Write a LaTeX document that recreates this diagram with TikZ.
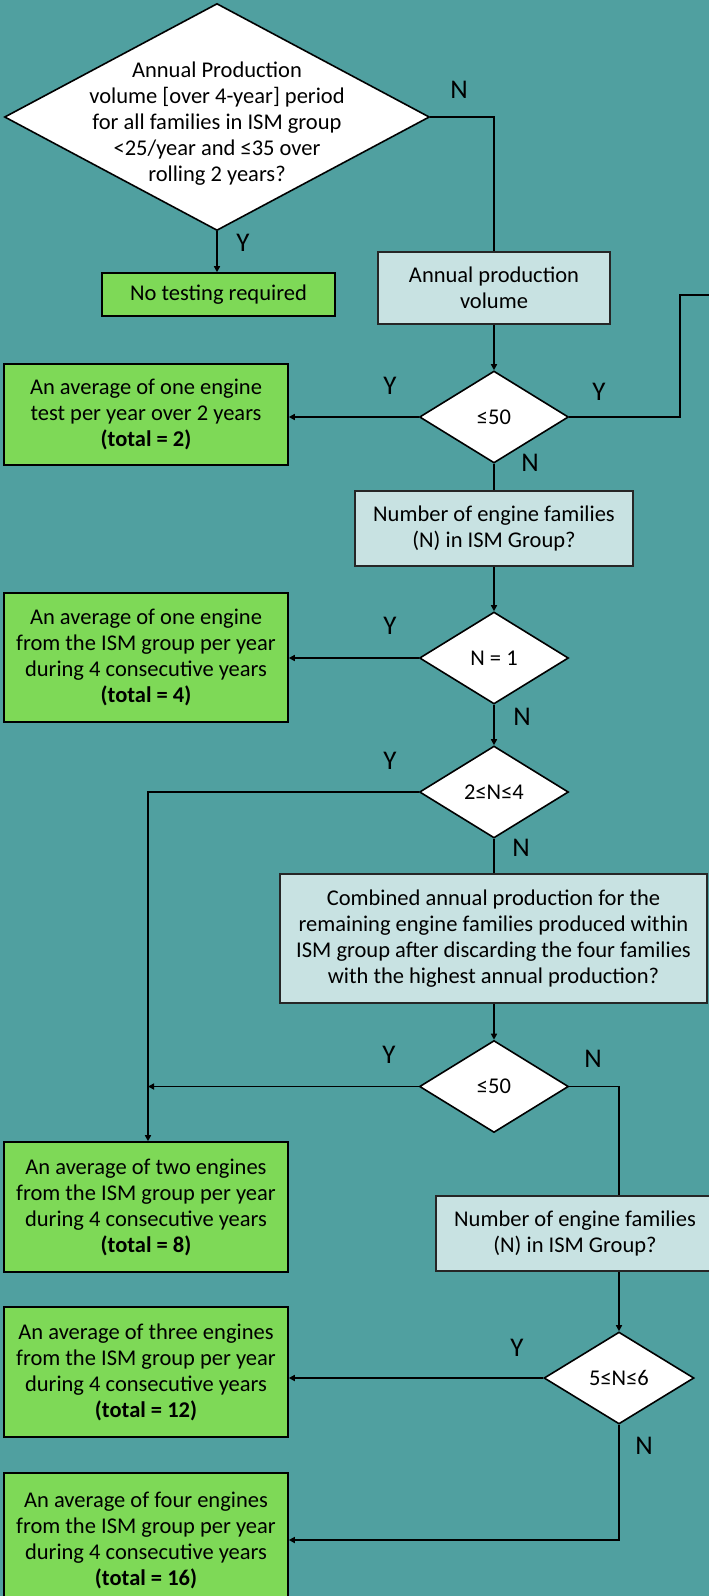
\documentclass[tikz,border=0pt]{standalone}
\usepackage{fontspec}
\setmainfont{Carlito}
\usetikzlibrary{shapes.geometric,arrows.meta}
\definecolor{bgteal}{RGB}{80,160,160}
\definecolor{boxgreen}{RGB}{126,217,87}
\definecolor{boxblue}{RGB}{200,226,226}
\begin{document}
\begin{tikzpicture}[x=1pt,y=-1pt,
  every node/.style={font=\fontsize{22.5}{26}\selectfont, align=center, inner sep=0pt},
  greenbox/.style={draw=black, fill=boxgreen, line width=1.6pt},
  bluebox/.style={draw=black!85, fill=boxblue, line width=1.6pt},
  dec/.style={diamond, draw=black, fill=white, line width=1.6pt, minimum width=149pt, minimum height=92pt},
  yn/.style={font=\fontsize{27}{30}\selectfont},
  conn/.style={line width=1.6pt},
  arr/.style={conn, -{Triangle[length=6pt,width=6pt]}}]
\path[use as bounding box, fill=bgteal] (0,0) rectangle (709,1596);
\clip (0,0) rectangle (709,1596);

% nodes
\node[dec, minimum width=425pt, minimum height=227pt] (D1) at (217,117) {};
\node (D1t) at (217,124) {Annual Production\\volume [over 4-year] period\\for all families in ISM group\\<25/year and ≤35 over\\rolling 2 years?};
\node[greenbox, minimum width=233pt, minimum height=43pt] (G0) at (218.5,294.5) {No testing required};
\node[bluebox, minimum width=232pt, minimum height=72pt] (B1) at (494,288) {Annual production\\volume};
\node[dec] (D2) at (494,417) {≤50};
\node[greenbox, minimum width=284pt, minimum height=101pt] (G1) at (146,414.5) {An average of one engine\\test per year over 2 years\\\textbf{(total = 2)}};
\node[bluebox, minimum width=278pt, minimum height=75pt] (B2) at (494,528.5) {Number of engine families\\(N) in ISM Group?};
\node[dec] (D3) at (494,658) {N = 1};
\node[greenbox, minimum width=284pt, minimum height=129pt] (G2) at (146,657.5) {An average of one engine\\from the ISM group per year\\during 4 consecutive years\\\textbf{(total = 4)}};
\node[dec] (D4) at (494,792) {2≤N≤4};
\node[bluebox, minimum width=427pt, minimum height=129pt] (B3) at (493.5,938.5) {Combined annual production for the\\remaining engine families produced within\\ISM group after discarding the four families\\with the highest annual production?};
\node[dec] (D5) at (494,1086.5) {≤50};
\node[greenbox, minimum width=284pt, minimum height=130pt] (G3) at (146,1207) {An average of two engines\\from the ISM group per year\\during 4 consecutive years\\\textbf{(total = 8)}};
\node[bluebox, minimum width=278pt, minimum height=75pt] (B4) at (575,1233.5) {Number of engine families\\(N) in ISM Group?};
\node[dec, minimum width=150pt] (D6) at (619,1378) {5≤N≤6};
\node[greenbox, minimum width=284pt, minimum height=130pt] (G4) at (146,1372) {An average of three engines\\from the ISM group per year\\during 4 consecutive years\\\textbf{(total = 12)}};
\node[greenbox, minimum width=284pt, minimum height=134pt] (G5) at (146,1540) {An average of four engines\\from the ISM group per year\\during 4 consecutive years\\\textbf{(total = 16)}};

% Y/N labels
\node[yn] (lN1) at (459,90) {N};
\node[yn] (lY1) at (243,243) {Y};
\node[yn] (lY2) at (390,386) {Y};
\node[yn] (lY3) at (599,392) {Y};
\node[yn] (lN2) at (530,463) {N};
\node[yn] (lY4) at (390,626) {Y};
\node[yn] (lN3) at (522,717) {N};
\node[yn] (lY5) at (390,761) {Y};
\node[yn] (lN4) at (521,848) {N};
\node[yn] (lY6) at (389,1055) {Y};
\node[yn] (lN5) at (593,1059) {N};
\node[yn] (lY7) at (517,1348) {Y};
\node[yn] (lN6) at (644,1446) {N};

% coordinates
\coordinate (tR) at (680,295);
\coordinate (offR) at (720,295);
\coordinate (Lx) at (148,792);

% connectors
\draw[conn] (D1.east) -| (B1.north);
\draw[arr] (D1.south) -- (D1.south |- G0.north);
\draw[arr] (B1.south) -- (D2.north);
\draw[conn] (D2.east) -| (tR) -- (offR);
\draw[arr] (D2.west) -- (D2.west -| G1.east);
\draw[conn] (D2.south) -- (B2.north);
\draw[arr] (B2.south) -- (D3.north);
\draw[arr] (D3.west) -- (D3.west -| G2.east);
\draw[arr] (D3.south) -- (D4.north);
\draw[arr] (D4.west) -- (Lx) -- (Lx |- G3.north);
\draw[arr] (D5.west) -- (D5.west -| Lx);
\draw[conn] (D4.south) -- (B3.north -| D4.south);
\draw[arr] (B3.south -| D5.north) -- (D5.north);
\draw[conn] (D5.east) -| (D6.north |- B4.north);
\draw[arr] (D6.north |- B4.south) -- (D6.north);
\draw[arr] (D6.west) -- (D6.west -| G4.east);
\draw[arr] (D6.south) |- (G5.east);
\end{tikzpicture}
\end{document}
